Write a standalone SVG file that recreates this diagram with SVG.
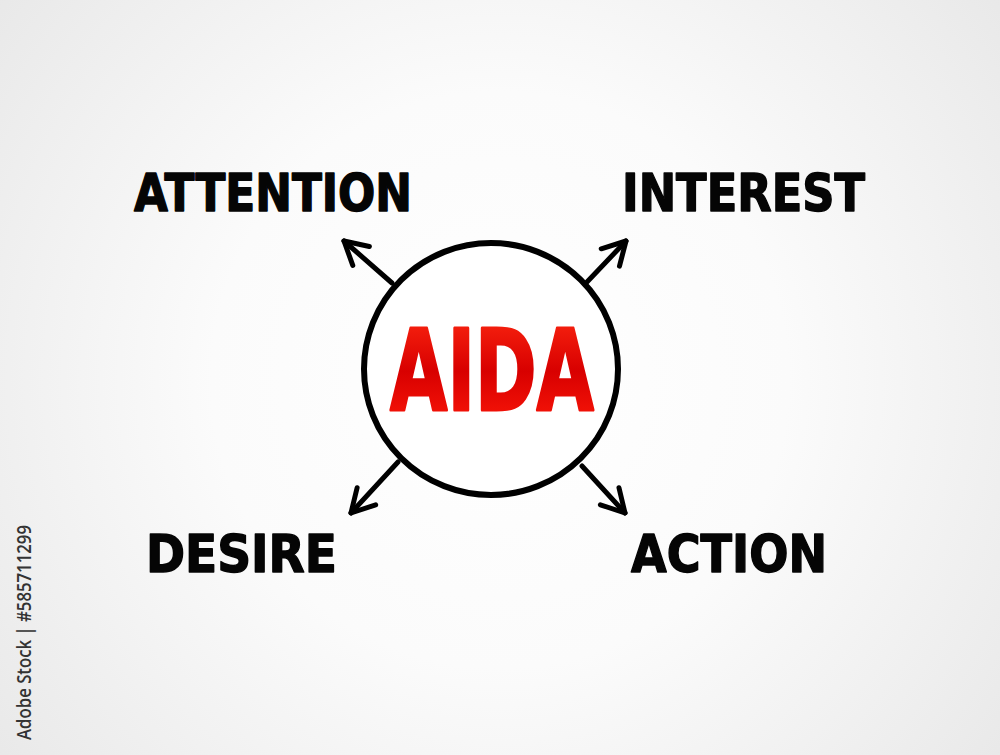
<svg xmlns="http://www.w3.org/2000/svg" width="1000" height="755" viewBox="0 0 1000 755">
<defs>
<radialGradient id="bg" cx="500" cy="380" r="640" gradientUnits="userSpaceOnUse">
<stop offset="0" stop-color="#ffffff"/>
<stop offset="0.45" stop-color="#fbfbfb"/>
<stop offset="1" stop-color="#e8e8e8"/>
</radialGradient>
<linearGradient id="red" x1="0" y1="0" x2="0" y2="1">
<stop offset="0" stop-color="#ff2a12"/>
<stop offset="0.5" stop-color="#d80000"/>
<stop offset="1" stop-color="#ff1a0a"/>
</linearGradient>
<marker id="head" markerUnits="userSpaceOnUse" markerWidth="40" markerHeight="40" viewBox="-30 -20 40 40" refX="0" refY="0" orient="auto">
<path d="M-22.7,-12.6 L0,0 L-22.7,12.6" fill="none" stroke="#000" stroke-width="5" stroke-linecap="round" stroke-linejoin="round"/>
</marker>
<style>
.lbl{font-family:"DejaVu Sans","Liberation Sans",sans-serif;font-weight:bold;font-size:52px;fill:#050505;stroke:#050505;stroke-width:1.5;stroke-linejoin:round}
.conn{fill:none;stroke:#000;stroke-width:5;stroke-linecap:round;marker-end:url(#head)}
</style>
</defs>
<rect width="1000" height="755" fill="url(#bg)"/>
<g id="connectors">
<line class="conn" x1="392" y1="283" x2="344" y2="241"/>
<line class="conn" x1="587" y1="282" x2="626" y2="241"/>
<line class="conn" x1="398" y1="462" x2="351" y2="513"/>
<line class="conn" x1="582" y1="466" x2="625" y2="513"/>
</g>
<g id="aida">
<ellipse cx="491" cy="369" rx="127" ry="126" fill="#ffffff" stroke="#000" stroke-width="6"/>
<text x="390" y="410" textLength="204" lengthAdjust="spacingAndGlyphs" font-family="DejaVu Sans, sans-serif" font-weight="bold" font-size="112" fill="url(#red)" stroke="url(#red)" stroke-width="3" stroke-linejoin="round">AIDA</text>
</g>
<g id="attention"><text class="lbl" x="134" y="211" textLength="278" lengthAdjust="spacingAndGlyphs">ATTENTION</text></g>
<g id="interest"><text class="lbl" x="622" y="211" textLength="243" lengthAdjust="spacingAndGlyphs">INTEREST</text></g>
<g id="desire"><text class="lbl" x="146" y="572" textLength="191" lengthAdjust="spacingAndGlyphs">DESIRE</text></g>
<g id="action"><text class="lbl" x="631" y="572" textLength="196" lengthAdjust="spacingAndGlyphs">ACTION</text></g>
<text transform="translate(31,740) rotate(-90)" font-family="Open Sans, sans-serif" font-weight="600" font-size="19" fill="#333333" textLength="215" lengthAdjust="spacingAndGlyphs">Adobe Stock | #585711299</text>
</svg>
